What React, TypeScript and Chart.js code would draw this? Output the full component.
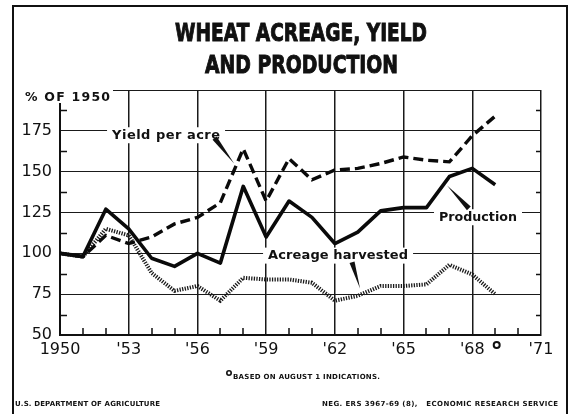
import React, { useEffect, useRef } from 'react';
import { Chart, registerables } from 'chart.js';

Chart.register(...registerables);

// ---- data (percent of 1950) ----
const years = [1950, 1951, 1952, 1953, 1954, 1955, 1956, 1957, 1958, 1959, 1960, 1961, 1962, 1963, 1964, 1965, 1966, 1967, 1968, 1969];
const production = [100, 98, 127, 115, 97, 92, 100, 94, 141, 110, 132, 122, 106, 113, 126, 128, 128, 147, 152, 142];
const yieldPerAcre = [100, 98, 111, 106, 110, 118, 122, 131, 164, 132, 158, 145, 151, 152, 155, 159, 157, 156, 172, 184];
const acreageHarvested = [100, 98, 115, 111, 88, 77, 80, 71, 85, 84, 84, 82, 71, 74, 80, 80, 81, 93, 87, 75];

const xTickValues = [1950, 1953, 1956, 1959, 1962, 1965, 1968, 1971];
const xTickLabels = ['1950', "'53", "'56", "'59", "'62", "'65", "'68", "'71"];
const yTickValues = [50, 75, 100, 125, 150, 175, 200];
const yTickLabels = ['50', '75', '100', '125', '150', '175', ''];
const yMinorTicks = [62.5, 87.5, 112.5, 137.5, 162.5, 187.5];
const estimatedYear = 1969;

const titleLines = ['WHEAT ACREAGE, YIELD', 'AND PRODUCTION'];
const yAxisTitle = '% OF 1950';
const footnote = 'BASED ON AUGUST 1 INDICATIONS.';
const sourceLeft = 'U.S. DEPARTMENT OF AGRICULTURE';
const sourceRight = 'NEG. ERS 3967-69 (8),   ECONOMIC RESEARCH SERVICE';

// annotation labels, anchored in data units
const seriesLabels = [
  { text: 'Yield per acre', x: 1954.63, y: 172.3, width: 108, base: [1956.75, 170.5], tip: [1957.6, 155] },
  { text: 'Production', x: 1968.25, y: 122.1, width: 78, base: [1967.85, 127.5], tip: [1966.9, 141.5] },
  { text: 'Acreage harvested', x: 1962.14, y: 98.6, width: 140, base: [1962.75, 94.5], tip: [1963.1, 78.5] },
];

const FONT = '"DejaVu Sans", "Liberation Sans", sans-serif';
const INK = '#111';

function drawFit(ctx: any, text: string, x: number, y: number, width: number, font: string, align: 'left' | 'center' = 'center', embolden = 0) {
  ctx.save();
  ctx.font = font;
  if ('letterSpacing' in ctx) ctx.letterSpacing = '0px';
  const w = ctx.measureText(text).width;
  const left = align === 'center' ? x - width / 2 : x;
  ctx.textAlign = 'left';
  if (w >= width || !('letterSpacing' in ctx)) {
    ctx.translate(left, y);
    ctx.scale(width / w, 1);
    ctx.fillText(text, 0, 0);
    if (embolden) { ctx.lineWidth = embolden; ctx.strokeText(text, 0, 0); }
  } else {
    const sp = (width - w) / Math.max(1, text.length - 1);
    ctx.letterSpacing = sp + 'px';
    ctx.fillText(text, left, y);
    if (embolden) { ctx.lineWidth = embolden; ctx.strokeText(text, left, y); }
    ctx.letterSpacing = '0px';
  }
  ctx.restore();
}

const decorPlugin = {
  id: 'decor',
  beforeDraw(chart: any) {
    const ctx = chart.ctx;
    ctx.save();
    ctx.fillStyle = '#fff';
    ctx.fillRect(0, 0, chart.width, chart.height);
    // outer frame
    ctx.strokeStyle = INK;
    ctx.lineWidth = 2;
    ctx.strokeRect(13, 6, 554, 500);
    // title
    ctx.fillStyle = INK;
    ctx.strokeStyle = INK;
    ctx.textBaseline = 'alphabetic';
    drawFit(ctx, titleLines[0], 301, 41, 252, `bold 25px ${FONT}`, 'center', 1);
    drawFit(ctx, titleLines[1], 301.5, 73, 193, `bold 25px ${FONT}`, 'center', 1);
    ctx.restore();
  },
  beforeDatasetsDraw(chart: any) {
    const ctx = chart.ctx;
    const { left, right, bottom } = chart.chartArea;
    const xs = chart.scales.x;
    const ys = chart.scales.y;
    ctx.save();
    ctx.strokeStyle = INK;
    ctx.lineWidth = 1.5;
    ctx.beginPath();
    for (const v of yMinorTicks) {
      const py = Math.round(ys.getPixelForValue(v)) + 0.5;
      ctx.moveTo(left, py); ctx.lineTo(left + 7, py);
      ctx.moveTo(right - 5, py); ctx.lineTo(right, py);
    }
    for (let yr = xTickValues[0] + 1; yr < xTickValues[xTickValues.length - 1]; yr++) {
      if (xTickValues.includes(yr)) continue;
      const px = Math.round(xs.getPixelForValue(yr));
      ctx.moveTo(px, bottom); ctx.lineTo(px, bottom - 7);
    }
    ctx.stroke();
    ctx.restore();
  },
  afterDatasetsDraw(chart: any) {
    const ctx = chart.ctx;
    const { top, bottom } = chart.chartArea;
    const xs = chart.scales.x;
    const ys = chart.scales.y;
    ctx.save();
    ctx.textBaseline = 'middle';
    // series labels with white background and wedge pointers
    for (const l of seriesLabels) {
      const cx = xs.getPixelForValue(l.x);
      const cy = ys.getPixelForValue(l.y);
      ctx.fillStyle = '#fff';
      ctx.fillRect(cx - l.width / 2 - 5, cy - 8, l.width + 10, 16);
      ctx.fillStyle = INK;
      drawFit(ctx, l.text, cx, cy + 0.5, l.width, `bold 13px ${FONT}`, 'center');
      const bx = xs.getPixelForValue(l.base[0]);
      const by = ys.getPixelForValue(l.base[1]);
      const tx = xs.getPixelForValue(l.tip[0]);
      const ty = ys.getPixelForValue(l.tip[1]);
      const dx = tx - bx, dy = ty - by;
      const len = Math.hypot(dx, dy) || 1;
      const nx = -dy / len * 2.6, ny = dx / len * 2.6;
      ctx.beginPath();
      ctx.moveTo(bx + nx, by + ny);
      ctx.lineTo(bx - nx, by - ny);
      ctx.lineTo(tx, ty);
      ctx.closePath();
      ctx.fill();
    }
    // y axis title covering the top-left corner
    ctx.fillStyle = '#fff';
    ctx.fillRect(18, top - 4, 95, 17);
    ctx.fillStyle = INK;
    ctx.textBaseline = 'alphabetic';
    drawFit(ctx, yAxisTitle, 25, top + 10.5, 85, `bold 12.5px ${FONT}`, 'left');
    // estimate marker under the last year
    ctx.strokeStyle = INK;
    ctx.lineWidth = 2;
    ctx.beginPath();
    ctx.arc(xs.getPixelForValue(estimatedYear) + 1.5, bottom + 10, 3, 0, Math.PI * 2);
    ctx.stroke();
    // footnote
    ctx.beginPath();
    ctx.arc(229, 373, 2.2, 0, Math.PI * 2);
    ctx.lineWidth = 1.6;
    ctx.stroke();
    drawFit(ctx, footnote, 233, 378.5, 147, `bold 7px ${FONT}`, 'left');
    // source lines
    drawFit(ctx, sourceLeft, 15, 406, 145, `bold 7px ${FONT}`, 'left');
    drawFit(ctx, sourceRight, 322, 406, 236, `bold 7px ${FONT}`, 'left');
    ctx.restore();
  },
};

export default function App() {
  const canvasRef = useRef<HTMLCanvasElement | null>(null);

  useEffect(() => {
    const canvas = canvasRef.current;
    if (!canvas) return;
    const pts = (vals: number[]) => vals.map((v, i) => ({ x: years[i], y: v }));
    const chart = new Chart(canvas, {
      type: 'line',
      data: {
        datasets: [
          {
            label: 'Production',
            data: pts(production),
            borderColor: '#0a0a0a',
            borderWidth: 3.6,
            pointRadius: 0,
            tension: 0,
            borderJoinStyle: 'round',
            borderCapStyle: 'butt',
          },
          {
            label: 'Yield per acre',
            data: pts(yieldPerAcre),
            borderColor: '#0a0a0a',
            borderWidth: 3.4,
            borderDash: [10, 5],
            pointRadius: 0,
            tension: 0,
            borderJoinStyle: 'miter',
            borderCapStyle: 'butt',
          },
          {
            label: 'Acreage harvested',
            data: pts(acreageHarvested),
            borderColor: '#1a1a1a',
            borderWidth: 4,
            borderDash: [1.3, 1.3],
            pointRadius: 0,
            tension: 0,
            borderCapStyle: 'butt',
          },
        ],
      },
      options: {
        responsive: false,
        animation: false,
        devicePixelRatio: 1,
        layout: { padding: { left: 10, right: 28, top: 90, bottom: 49 } },
        plugins: {
          legend: { display: false },
          tooltip: { enabled: false },
          title: { display: false },
        },
        scales: {
          x: {
            type: 'linear',
            min: 1950,
            max: 1971,
            afterBuildTicks: (s: any) => { s.ticks = xTickValues.map((v) => ({ value: v })); },
            afterFit: (s: any) => { s.height = 30; },
            grid: { color: '#1a1a1a', lineWidth: 1.5, drawTicks: false },
            border: { color: INK, width: 2 },
            ticks: {
              padding: 5,
              autoSkip: false,
              maxRotation: 0,
              color: INK,
              font: { family: FONT, size: 16 },
              callback: (_v: any, i: number) => xTickLabels[i],
            },
          },
          y: {
            type: 'linear',
            min: 50,
            max: 200,
            afterBuildTicks: (s: any) => { s.ticks = yTickValues.map((v) => ({ value: v })); },
            afterFit: (s: any) => { s.width = 50; },
            grid: { color: '#1a1a1a', lineWidth: 1, drawTicks: false },
            border: { color: INK, width: 2 },
            ticks: {
              padding: 8,
              color: INK,
              font: { family: FONT, size: 16 },
              callback: (_v: any, i: number) => yTickLabels[i],
            },
          },
        },
      } as any,
      plugins: [decorPlugin],
    });
    return () => chart.destroy();
  }, []);

  return (
    <div style={{ position: 'absolute', left: 0, top: 0, width: 569, height: 414 }}>
      <canvas ref={canvasRef} width={569} height={414} style={{ display: 'block', width: 569, height: 414 }} />
    </div>
  );
}
